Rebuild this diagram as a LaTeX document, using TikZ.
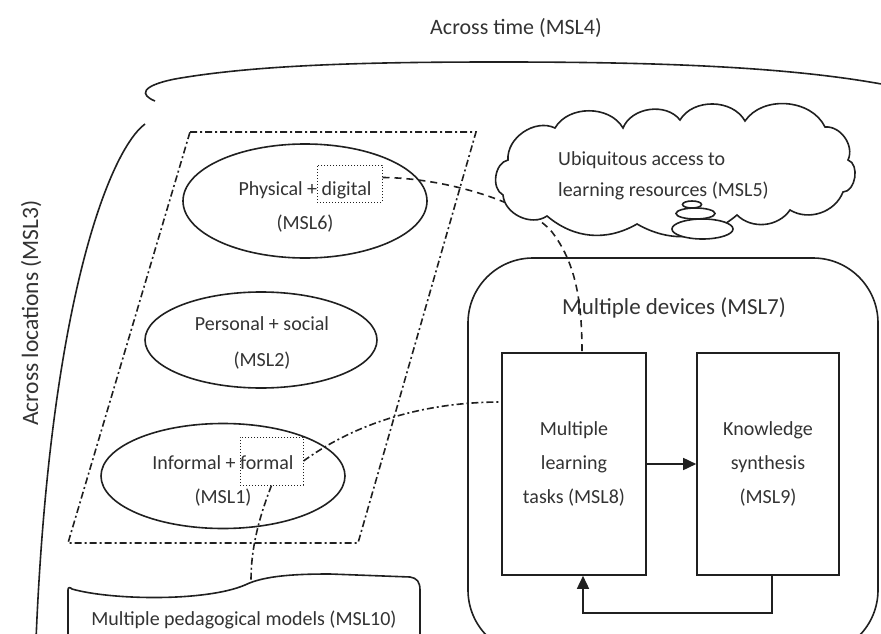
\documentclass[tikz,border=0pt]{standalone}
\usepackage{fontspec}
\setmainfont{Carlito}
\usetikzlibrary{shapes.geometric,arrows.meta}
\definecolor{ink}{HTML}{202020}
\definecolor{textc}{HTML}{333333}
\tikzset{
  ln/.style={line width=1.6pt, draw=ink},
  txt/.style={text=textc, font=\fontsize{20}{34}\selectfont, inner sep=0pt},
  oval/.style={ellipse, ln, inner sep=0pt},
  dotbox/.style={rectangle, draw=ink, line width=1pt, dotted, inner sep=0pt},
  taskbox/.style={txt, rectangle, ln, minimum width=144, minimum height=222, align=center},
  dashdot/.style={ln, dash pattern=on 7pt off 3pt on 2pt off 3pt},
  dashline/.style={ln, dash pattern=on 7pt off 5pt},
  tip/.style={-{Triangle[length=13pt,width=12pt]}},
  puff/.style={bend left=#1},
}
\begin{document}
\begin{tikzpicture}[x=1pt,y=-1pt]
\useasboundingbox (0,0) rectangle (881,634);

% --- time brace across the top
\node[txt, anchor=base, font=\fontsize{22}{26}\selectfont] (time) at (516,35) {Across time (MSL4)};
\draw[ln] (155,101) .. controls (140,95) and (140,86) .. (175,79)
  .. controls (260,64) and (380,62) .. (500,62)
  .. controls (650,62) and (790,66) .. (892,86);

% --- locations arc on the left
\draw[ln] (145,124) .. controls (110,150) and (50,300) .. (36,640);
\node[txt, rotate=90, anchor=base, font=\fontsize{23.5}{28}\selectfont] (loc) at (38,313) {Across locations (MSL3)};

% --- dash-dot frame around the three blends
\draw[dashdot] (190,132) -- (476,132) -- (358,543) -- (68,543) -- cycle;

% --- the three blend ellipses
\node[oval, minimum width=244, minimum height=114] (e6) at (305,201) {};
\node[txt, anchor=base] (e6a) at (305,195) {Physical + digital};
\node[txt, anchor=base] (e6b) at (305,229) {(MSL6)};
\node[dotbox, minimum width=65, minimum height=37] (dig) at (349.5,183.5) {};

\node[oval, minimum width=232, minimum height=96] (e2) at (261,340) {};
\node[txt, anchor=base] (e2a) at (262,330) {Personal + social};
\node[txt, anchor=base] (e2b) at (262,366) {(MSL2)};

\node[oval, minimum width=244, minimum height=105] (e1) at (223,476) {};
\node[txt, anchor=base] (e1a) at (223,469) {Informal + formal};
\node[txt, anchor=base] (e1b) at (223,503) {(MSL1)};
\node[dotbox, minimum width=63, minimum height=48] (fbox) at (271.5,461) {};

% --- devices frame with tasks and synthesis
\draw[ln, rounded corners=65pt] (468,258) rectangle (878,655);
\node[txt, anchor=base, font=\fontsize{23}{28}\selectfont] (dev) at (674,314) {Multiple devices (MSL7)};
\node[taskbox] (t8) at (574,464) {Multiple\\learning\\tasks (MSL8)};
\node[taskbox, minimum width=142] (t9) at (768,464) {Knowledge\\synthesis\\(MSL9)};
\draw[ln, tip] (t8.east) -- (t9.west);
\draw[ln, tip] ([xshift=4pt]t9.south) -- ++(0,37) -| ([xshift=9pt]t8.south);

% --- pedagogical models banner at the bottom
\draw[ln, fill=white] (68,640) -- (68,590) .. controls (68,587) and (70,587) .. (72,589)
  .. controls (110,600) and (205,602) .. (245,585)
  .. controls (265,575) and (300,574) .. (330,574) -- (410,577)
  .. controls (417,578) and (420,582) .. (420,590) -- (420,640);
\coordinate (pedtop) at (251,580);
\node[txt, anchor=base] (ped) at (244,625) {Multiple pedagogical models (MSL10)};

% --- connectors between the blends and the tasks
\draw[dashline] ([yshift=6pt]dig.east) .. controls (450,178) and (530,205) .. (552,232)
  .. controls (575,262) and ([xshift=8pt,yshift=53pt]t8.north) .. ([xshift=8pt]t8.north);
\draw[dashdot] (fbox.east) .. controls (360,420) and (430,402) .. ([yshift=62pt]t8.west);
\draw[dashdot] (fbox.south) .. controls (258,520) and (251,550) .. (pedtop);

% --- resources cloud, drawn over the dashed connector
\draw[ln, fill=white] (503,195) to[puff=70] (508,160) to[puff=60] (555,128)
  to[puff=60] (623,128) to[puff=60] (680,120) to[puff=60] (745,121)
  to[puff=60] (825,127) to[puff=60] (848,160) to[puff=80] (843,192)
  to[puff=50] (790,210) to[puff=50] (737,215) to[puff=35] (637,224)
  to[puff=35] (547,216) to[puff=60] cycle;
\node[ellipse, ln, fill=white, minimum width=61, minimum height=20, inner sep=0pt] (b3) at (702.5,229) {};
\node[ellipse, ln, fill=white, minimum width=39, minimum height=11, inner sep=0pt] (b2) at (695.5,213.5) {};
\node[ellipse, ln, fill=white, minimum width=19, minimum height=7, inner sep=0pt] (b1) at (692,204.5) {};
\node[txt, anchor=base west] (cla) at (558,165) {Ubiquitous access to};
\node[txt, anchor=base west] (clb) at (558,196) {learning resources (MSL5)};
\end{tikzpicture}
\end{document}
